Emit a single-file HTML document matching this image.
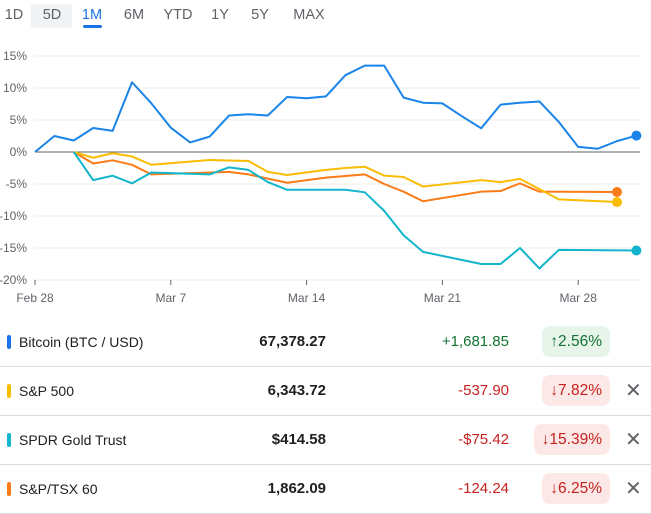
<!DOCTYPE html>
<html><head><meta charset="utf-8"><style>
body{margin:0;width:651px;height:514px;background:#fff;font-family:"Liberation Sans",Arial,sans-serif;position:relative;overflow:hidden}
.tab{position:absolute;top:7px;font-size:14.5px;color:#5f6368;transform:translateX(-50%)}
.row{position:absolute;left:0;width:651px;height:49px}
.sep{position:absolute;left:0;width:651px;height:1px;background:#dadce0}
.sw{position:absolute;left:7px;width:4px;height:14px;border-radius:2px}
.nm{position:absolute;left:19px;font-size:14px;color:#202124}
.pr{position:absolute;right:325px;font-size:15px;color:#202124;font-weight:bold}
.ch{position:absolute;right:142px;font-size:15px}
.pill{position:absolute;right:41px;height:31px;border-radius:8px;font-size:15.5px;line-height:31px;padding:0 8px}
.x{position:absolute;left:625px;font-size:20px;color:#5f6368}
</style></head><body>
<div>
<div style="position:absolute;left:31px;top:4px;width:41px;height:24px;background:#f1f3f4"></div>
<div class="tab" style="left:14px">1D</div>
<div class="tab" style="left:52px">5D</div>
<div class="tab" style="left:92px;color:#1a73e8">1M</div>
<div style="position:absolute;left:83px;top:25px;width:19px;height:3px;background:#1a73e8;border-radius:2px"></div>
<div class="tab" style="left:134px">6M</div>
<div class="tab" style="left:178px">YTD</div>
<div class="tab" style="left:220px">1Y</div>
<div class="tab" style="left:260px">5Y</div>
<div class="tab" style="left:309px">MAX</div>
</div>
<svg id="chart" width="651" height="320" style="position:absolute;left:0;top:0"></svg>

<div class="row" style="top:318px">
<div class="sw" style="top:17px;background:#1a73e8"></div>
<div class="nm" style="top:16px">Bitcoin (BTC / USD)</div>
<div class="pr" style="top:15px">67,378.27</div>
<div class="ch" style="top:15px;color:#137333">+1,681.85</div>
<div class="pill" style="top:8px;background:#e6f4ea;color:#137333">↑2.56%</div>
</div>
<div class="sep" style="top:366px"></div>
<div class="row" style="top:367px">
<div class="sw" style="top:17px;background:#fbbc04"></div>
<div class="nm" style="top:16px">S&amp;P 500</div>
<div class="pr" style="top:15px">6,343.72</div>
<div class="ch" style="top:15px;color:#c5221f">-537.90</div>
<div class="pill" style="top:8px;background:#fce8e6;color:#c5221f">↓7.82%</div>
<div class="x" style="top:11px">✕</div>
</div>
<div class="sep" style="top:415px"></div>
<div class="row" style="top:416px">
<div class="sw" style="top:17px;background:#12b5cb"></div>
<div class="nm" style="top:16px">SPDR Gold Trust</div>
<div class="pr" style="top:15px">$414.58</div>
<div class="ch" style="top:15px;color:#c5221f">-$75.42</div>
<div class="pill" style="top:8px;background:#fce8e6;color:#c5221f">↓15.39%</div>
<div class="x" style="top:11px">✕</div>
</div>
<div class="sep" style="top:464px"></div>
<div class="row" style="top:465px">
<div class="sw" style="top:17px;background:#fa7b17"></div>
<div class="nm" style="top:16px">S&amp;P/TSX 60</div>
<div class="pr" style="top:15px">1,862.09</div>
<div class="ch" style="top:15px;color:#c5221f">-124.24</div>
<div class="pill" style="top:8px;background:#fce8e6;color:#c5221f">↓6.25%</div>
<div class="x" style="top:11px">✕</div>
</div>
<div class="sep" style="top:513px"></div>

<script>
const yTicks=[15,10,5,0,-5,-10,-15,-20];
const xTickDays=[0,7,14,21,28];
const xTickLabels=["Feb 28","Mar 7","Mar 14","Mar 21","Mar 28"];
const btcDays=[0,1,2,3,4,5,6,7,8,9,10,11,12,13,14,15,16,17,18,19,20,21,22,23,24,25,26,27,28,29,30,31];
const btcVals=[0,2.5,1.8,3.75,3.3,10.9,7.6,3.8,1.5,2.4,5.7,5.9,5.7,8.6,8.4,8.7,12.0,13.5,13.5,8.5,7.7,7.6,5.6,3.7,7.4,7.7,7.9,4.7,0.8,0.5,1.7,2.56];
const spDays=[2,3,4,5,6,9,11,12,13,15,16,17,18,19,20,23,24,25,27,30];
const spVals=[0,-0.9,-0.2,-0.7,-2.0,-1.25,-1.4,-3.1,-3.6,-2.8,-2.5,-2.3,-3.7,-3.9,-5.4,-4.4,-4.7,-4.2,-7.4,-7.82];
const tsxDays=[2,3,4,5,6,9,10,11,13,15,16,17,18,19,20,23,24,25,26,30];
const tsxVals=[0,-1.8,-1.3,-2.0,-3.5,-3.2,-3.1,-3.5,-4.8,-4.0,-3.75,-3.5,-5.0,-6.2,-7.7,-6.2,-6.1,-4.9,-6.2,-6.25];
const gldDays=[2,3,4,5,6,9,10,11,12,13,15,16,17,18,19,20,23,24,25,26,27,31];
const gldVals=[0,-4.4,-3.7,-4.9,-3.2,-3.5,-2.4,-2.8,-4.7,-5.9,-5.9,-5.9,-6.3,-9.2,-13,-15.6,-17.5,-17.5,-15.0,-18.2,-15.3,-15.39];

const svg=document.getElementById('chart');
const NS='http://www.w3.org/2000/svg';
const X=d=>35+d*19.4;
const Y=v=>152-v*6.4;
function mk(t,a){const e=document.createElementNS(NS,t);for(const k in a)e.setAttribute(k,a[k]);svg.appendChild(e);return e;}
yTicks.forEach(v=>{
 const g=mk('line',{x1:35,x2:640,y1:Y(v),y2:Y(v),stroke:v===0?'#5f6368':'#ececec','stroke-width':1});
 
 
 const t=mk('text',{x:27,y:Y(v)+4,'text-anchor':'end','font-size':12,fill:'#5f6368','font-family':'Liberation Sans, sans-serif'});
 t.textContent=v+'%';
 
 
});
xTickDays.forEach((d,i)=>{
 const l=mk('line',{x1:X(d),x2:X(d),y1:280,y2:285,stroke:'#5f6368','stroke-width':1});
 
 
 const t=mk('text',{x:X(d),y:302,'text-anchor':'middle','font-size':12,fill:'#5f6368','font-family':'Liberation Sans, sans-serif'});
 t.textContent=xTickLabels[i];
 
 
});
function series(days,vals,color,name){
 const p=mk('polyline',{points:days.map((d,i)=>X(d)+','+Y(vals[i])).join(' '),fill:'none',stroke:color,'stroke-width':2,'stroke-linejoin':'round'});
 
 
 const n=days.length-1;
 const c=mk('circle',{cx:X(days[n]),cy:Y(vals[n]),r:5,fill:color});
 
 
}
series(tsxDays,tsxVals,'#fa7b17','tsx60');
series(spDays,spVals,'#fbbc04','sp500');
series(gldDays,gldVals,'#12b5cb','gold');
series(btcDays,btcVals,'#1a84e8','bitcoin');
</script>
</body></html>
